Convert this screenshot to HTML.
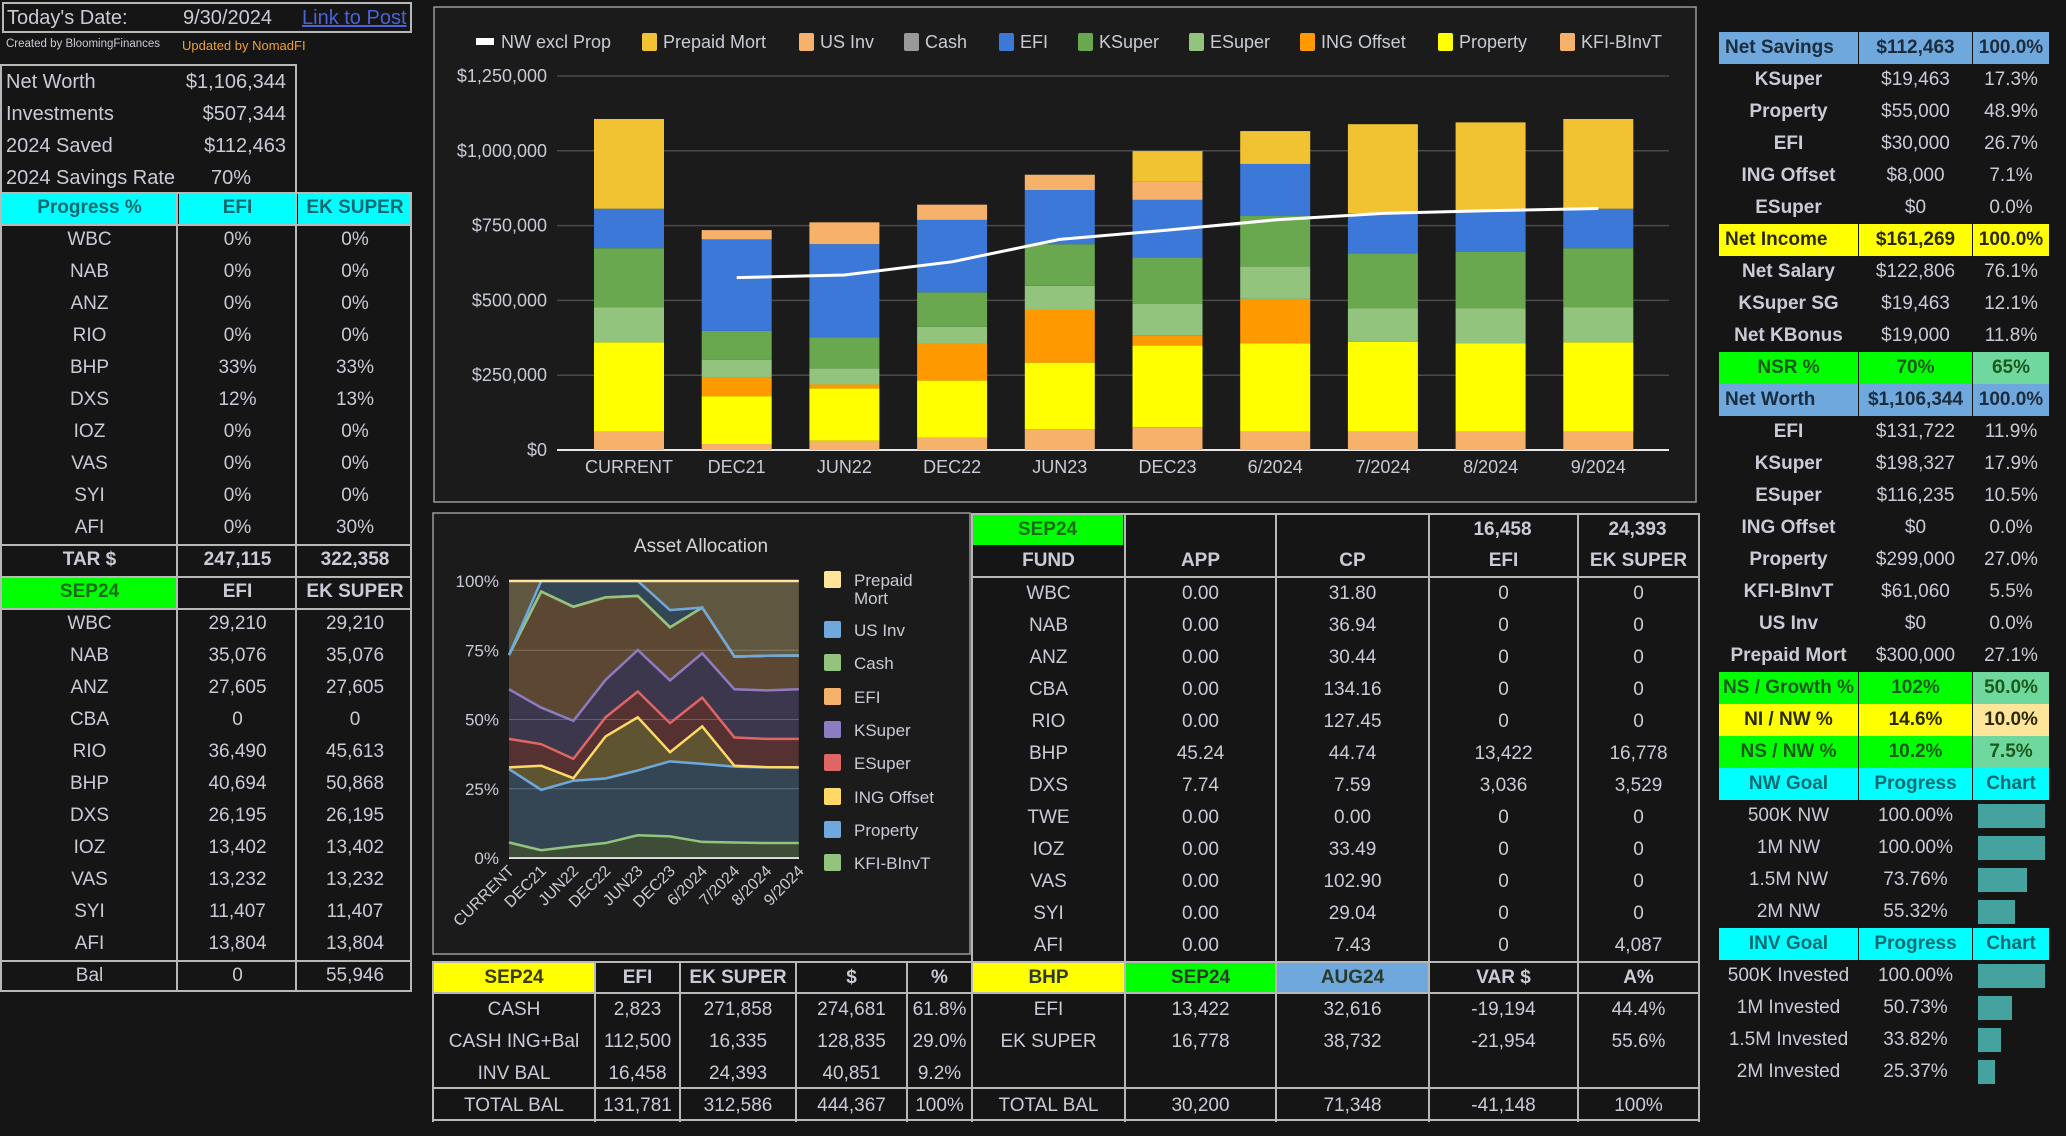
<!DOCTYPE html>
<html><head><meta charset="utf-8"><style>
body{margin:0;width:2066px;height:1136px;background:#151515;overflow:hidden;position:relative;font-family:"Liberation Sans",sans-serif;color:#c9ccd6}
.c{position:absolute;box-sizing:border-box;display:flex;align-items:center;justify-content:center;font-size:19px;white-space:nowrap;overflow:hidden}
.l{position:absolute;background:#b8b8b8}
svg text{font-family:"Liberation Sans",sans-serif}
</style></head><body>
<div class="c" style="left:2px;top:2px;width:410px;height:31px;border:2px solid #b8b8b8;justify-content:flex-start"></div>
<div class="c" style="left:7px;top:3px;height:30px;font-size:20px">Today's Date:</div>
<div class="c" style="left:183px;top:3px;height:30px;font-size:20px">9/30/2024</div>
<div class="c" style="left:302px;top:3px;height:30px;font-size:20px;color:#4a63d8;text-decoration:underline">Link to Post</div>
<div class="c" style="left:6px;top:35px;height:18px;font-size:11.5px">Created by BloomingFinances</div>
<div class="c" style="left:182px;top:35px;height:20px;font-size:13px;color:#f0a030">Updated by NomadFI</div>
<div class="c" style="left:0;top:64px;width:297px;height:130px;border:2px solid #b8b8b8"></div>

<svg id="bar" style="position:absolute;left:0;top:0" width="2066" height="1136"></svg>
<script>
// ---------- Net worth stacked bar chart data ----------
const barCategories=["CURRENT","DEC21","JUN22","DEC22","JUN23","DEC23","6/2024","7/2024","8/2024","9/2024"];
const kfiBInvT=[61060,20000,31000,42000,70000,76000,61000,61000,61000,61060];
const propertyVals=[299000,160000,175000,190000,222000,273000,295000,301000,295000,299000];
const ingOffset=[0,62000,13000,124000,176000,33000,149000,0,0,0];
const eSuper=[116235,59000,54000,56000,81000,106000,108000,111000,117000,116235];
const kSuper=[198327,97000,104000,115000,139000,156000,169000,184000,190000,198327];
const efiVals=[131722,306000,311000,242000,181000,192000,174000,134000,134000,131722];
const cashVals=[0,0,0,0,0,0,0,0,0,0];
const usInv=[0,31000,73000,51000,51000,61000,0,0,0,0];
const prepaidMort=[300000,0,0,0,0,102000,110000,298000,298000,300000];
const nwExclProp=[null,576000,585000,629000,704000,735000,769000,791000,800000,807000];
const barTicks=[0,250000,500000,750000,1000000,1250000];
const barTickLabels=["$0","$250,000","$500,000","$750,000","$1,000,000","$1,250,000"];
// ---------- Asset allocation (cumulative % tops) ----------
const allocCategories=barCategories;
const cumKFI=[5.6,2.8,4.2,5.4,8.2,7.8,5.8,5.6,5.4,5.4];
const cumProperty=[32.1,24.6,27.9,28.7,31.6,34.9,34,33,32.7,32.7];
const cumING=[32.7,33.3,28.8,43.9,50.8,38.2,47.5,33.3,32.8,32.7];
const cumESuper=[43,41.1,35.8,50.8,60.1,48.7,57.9,43.5,43,43];
const cumKSuper=[60.9,54.3,49.5,64.3,75.1,64.1,73.9,60.9,60.5,60.9];
const cumEFI=[73.3,96.2,90.7,94.1,94.6,83.3,90.4,72.7,73,73.1];
const cumCash=[73.3,96.2,90.7,94.1,94.6,83.3,90.4,72.7,73,73.1];
const cumUSInv=[73.3,100,100,100,100,89.5,90.4,72.7,73,73.1];
const cumPrepaid=[100,100,100,100,100,100,100,100,100,100];
const allocTicks=[0,25,50,75,100];
const allocTickLabels=["0%","25%","50%","75%","100%"];

const NS="http://www.w3.org/2000/svg";
const svg=document.getElementById('bar');
function S(tag,attrs,parent){const e=document.createElementNS(NS,tag);for(const k in attrs)e.setAttribute(k,attrs[k]);(parent||svg).appendChild(e);return e;}

let fr=S('rect',{x:434,y:7,width:1262,height:495,fill:'#1b1b1b',stroke:'#9a9a9a','stroke-width':1.5});


const bx=i=>629+107.7*i, by=v=>450-v/1250000*374;
barTicks.forEach((t,i)=>{
  let g=S('line',{x1:557,x2:1669,y1:by(t),y2:by(t),stroke:i==0?'#e8e8e8':'#4a4a4a','stroke-width':i==0?2:1.5});
  
  
  let tx=S('text',{x:547,y:by(t)+6,'text-anchor':'end','font-size':18,fill:'#c9ccd6'});tx.textContent=barTickLabels[i];
  
  
});
const stack=[[kfiBInvT,'#f6b26b','kfi-binvt'],[propertyVals,'#ffff00','property'],[ingOffset,'#ff9900','ing-offset'],[eSuper,'#93c47d','esuper'],[kSuper,'#6aa84f','ksuper'],[efiVals,'#3c78d8','efi'],[cashVals,'#999999','cash'],[usInv,'#f6b26b','us-inv'],[prepaidMort,'#f1c232','prepaid-mort']];
barCategories.forEach((c,i)=>{
  let base=0;
  stack.forEach(([arr,col,nm])=>{
    const v=arr[i];
    if(v>0){let r=S('rect',{x:bx(i)-35,y:by(base+v),width:70,height:by(base)-by(base+v),fill:col});
      
      }
    base+=v;
  });
  let t=S('text',{x:bx(i),y:473,'text-anchor':'middle','font-size':18,fill:'#c9ccd6'});t.textContent=c;
  
  
});
let pts=[];nwExclProp.forEach((v,i)=>{if(v!=null)pts.push(bx(i)+','+by(v));});
let ln=S('polyline',{points:pts.join(' '),fill:'none',stroke:'#ffffff','stroke-width':3});


const leg=[['NW excl Prop','#ffffff',480,1],['Prepaid Mort','#f1c232',642],['US Inv','#f6b26b',799],['Cash','#999999',904],['EFI','#3c78d8',999],['KSuper','#6aa84f',1078],['ESuper','#93c47d',1189],['ING Offset','#ff9900',1300],['Property','#ffff00',1438],['KFI-BInvT','#f6b26b',1560]];
leg.forEach(([n,c,x,isLine])=>{
  let m=isLine?S('rect',{x:x-4,y:38,width:18,height:7,fill:c}):S('rect',{x:x,y:33,width:15,height:18,rx:2,fill:c});
  
  
  let t=S('text',{x:x+21,y:48,'font-size':18,fill:'#c9ccd6'});t.textContent=n;
  
  
});

let fr2=S('rect',{x:433,y:513,width:537,height:441,fill:'#1b1b1b',stroke:'#9a9a9a','stroke-width':1.5});


let tt=S('text',{x:701,y:552,'text-anchor':'middle','font-size':19,fill:'#d6d6d6'});tt.textContent='Asset Allocation';


const ax=i=>509+32.2*i, ay=p=>858-p/100*277;
allocTicks.forEach((t,i)=>{
  let g=S('line',{x1:509,x2:799,y1:ay(t),y2:ay(t),stroke:i==0?'#e0e0e0':'#555','stroke-width':i==0?2:1});
  
  
  let tx=S('text',{x:499,y:ay(t)+6,'text-anchor':'end','font-size':17,fill:'#c9ccd6'});tx.textContent=allocTickLabels[i];
  
  
});
const zero=allocCategories.map(()=>0);
const layers=[[zero,cumKFI,'#93c47d','kfi-binvt'],[cumKFI,cumProperty,'#6fa8dc','property'],[cumProperty,cumING,'#ffd966','ing-offset'],[cumING,cumESuper,'#e06666','esuper'],[cumESuper,cumKSuper,'#8e7cc3','ksuper'],[cumKSuper,cumEFI,'#f6b26b','efi'],[cumEFI,cumCash,'#93c47d','cash'],[cumCash,cumUSInv,'#6fa8dc','us-inv'],[cumUSInv,cumPrepaid,'#ffe599','prepaid-mort']];
layers.forEach(([lo,hi,col,nm])=>{
  const top=hi.map((v,i)=>ax(i)+','+ay(v));
  const bot=lo.map((v,i)=>ax(i)+','+ay(v)).reverse();
  let p=S('polygon',{points:top.concat(bot).join(' '),fill:col,'fill-opacity':0.3});
  
  
});
layers.forEach(([lo,hi,col,nm])=>{
  let l=S('polyline',{points:hi.map((v,i)=>ax(i)+','+ay(v)).join(' '),fill:'none',stroke:col,'stroke-width':2.5});
  
  
});
allocCategories.forEach((c,i)=>{
  let t=S('text',{x:ax(i)+6,y:872,'text-anchor':'end','font-size':16,fill:'#c9ccd6',transform:`rotate(-45 ${ax(i)+6} 872)`});t.textContent=c;
  
  
});
const leg2=[['Prepaid','#ffe599',580],['US Inv','#6fa8dc',630],['Cash','#93c47d',663],['EFI','#f6b26b',697],['KSuper','#8e7cc3',730],['ESuper','#e06666',763],['ING Offset','#ffd966',797],['Property','#6fa8dc',830],['KFI-BInvT','#93c47d',863]];
leg2.forEach(([n,c,y])=>{
  let m=S('rect',{x:824,y:y-9,width:17,height:17,rx:2,fill:c});
  
  
  let t=S('text',{x:854,y:y+6,'font-size':17,fill:'#c9ccd6'});t.textContent=n;
  
  
});
let t2=S('text',{x:854,y:604,'font-size':17,fill:'#c9ccd6'});t2.textContent='Mort';



function cell(x,y,w,h,text,name,st){
  const el=document.createElement('div');
  el.className='c';
  el.style.cssText=`left:${x}px;top:${y}px;width:${w}px;height:${h}px;`+(st||'');
  el.textContent=text;
  
  
  document.body.appendChild(el);
  return el;
}
function line(x,y,w,h,col){
  const el=document.createElement('div');
  el.className='l';
  el.style.cssText=`left:${x}px;top:${y}px;width:${w}px;height:${h}px;`+(col?'background:'+col:'');
  
  
  document.body.appendChild(el);
}
const summary=[["Net Worth","$1,106,344"],["Investments","$507,344"],["2024 Saved","$112,463"],["2024 Savings Rate","70%"]];
summary.forEach((r,i)=>{
  cell(6,66+32*i,180,32,r[0],'summary-label','justify-content:flex-start;font-size:20px');
  cell(176,66+32*i,110,32,r[1],'summary-value',i==3?'font-size:20px':'justify-content:flex-end;font-size:20px');
});
const LC=[0,177,296,412];
const leftRows=[
 ["Progress %","EFI","EK SUPER","cyan"],
 ["WBC","0%","0%"],["NAB","0%","0%"],["ANZ","0%","0%"],["RIO","0%","0%"],["BHP","33%","33%"],["DXS","12%","13%"],["IOZ","0%","0%"],["VAS","0%","0%"],["SYI","0%","0%"],["AFI","0%","30%"],
 ["TAR $","247,115","322,358","bold"],
 ["SEP24","EFI","EK SUPER","green"],
 ["WBC","29,210","29,210"],["NAB","35,076","35,076"],["ANZ","27,605","27,605"],["CBA","0","0"],["RIO","36,490","45,613"],["BHP","40,694","50,868"],["DXS","26,195","26,195"],["IOZ","13,402","13,402"],["VAS","13,232","13,232"],["SYI","11,407","11,407"],["AFI","13,804","13,804"],
 ["Bal","0","55,946"]];
leftRows.forEach((r,i)=>{
  const y=192+32*i;
  for(let j=0;j<3;j++){
    let st='font-size:19px;';
    if(r[3]=='cyan')st+='background:#00ffff;color:#0c6b70;font-weight:bold;';
    if(r[3]=='bold')st+='font-weight:bold;';
    if(r[3]=='green')st+=(j==0?'background:#00ff00;color:#1b6b1b;':'')+'font-weight:bold;';
    cell(LC[j]+2,y,LC[j+1]-LC[j]-2,32,r[j],'left-table-cell',st);
  }
});
[0,176,295,410].forEach(x=>line(x,192,2,800));
[192,224,544,576,608,960,990].forEach(y=>line(0,y,412,2));

const RC=[1719,1858,1972,2049];
const rightRows=[
 ["Net Savings","$112,463","100.0%","blue"],["KSuper","$19,463","17.3%","b"],["Property","$55,000","48.9%","b"],["EFI","$30,000","26.7%","b"],["ING Offset","$8,000","7.1%","b"],["ESuper","$0","0.0%","b"],
 ["Net Income","$161,269","100.0%","yellow"],["Net Salary","$122,806","76.1%","b"],["KSuper SG","$19,463","12.1%","b"],["Net KBonus","$19,000","11.8%","b"],
 ["NSR %","70%","65%","green"],["Net Worth","$1,106,344","100.0%","blue"],["EFI","$131,722","11.9%","b"],["KSuper","$198,327","17.9%","b"],["ESuper","$116,235","10.5%","b"],["ING Offset","$0","0.0%","b"],["Property","$299,000","27.0%","b"],["KFI-BInvT","$61,060","5.5%","b"],["US Inv","$0","0.0%","b"],["Prepaid Mort","$300,000","27.1%","b"],
 ["NS / Growth %","102%","50.0%","green"],["NI / NW %","14.6%","10.0%","yellow2"],["NS / NW %","10.2%","7.5%","green"],
 ["NW Goal","Progress","Chart","cyan"],["500K NW","100.00%",100],["1M NW","100.00%",100],["1.5M NW","73.76%",73.76],["2M NW","55.32%",55.32],
 ["INV Goal","Progress","Chart","cyan"],["500K Invested","100.00%",100],["1M Invested","50.73%",50.73],["1.5M Invested","33.82%",33.82],["2M Invested","25.37%",25.37]];
rightRows.forEach((r,i)=>{
  const y=32+32*i, k=r[3];
  for(let j=0;j<3;j++){
    let st='font-size:19px;';
    if(k=='blue')st+='background:#6fa8dc;color:#1c2c3c;font-weight:bold;'+(j==0?'justify-content:flex-start;padding-left:6px;':'');
    if(k=='yellow')st+='background:#ffff00;color:#2a2a00;font-weight:bold;'+(j==0?'justify-content:flex-start;padding-left:6px;':'');
    if(k=='yellow2')st+='color:#2a2a00;font-weight:bold;background:'+(j==2?'#ffe599':'#ffff00')+';';
    if(k=='green')st+='color:#1a5a1a;font-weight:bold;background:'+(j==2?'#6fd89f':'#00ff00')+';';
    if(k=='cyan')st+='background:#00ffff;color:#0c6b70;font-weight:bold;';
    if(k=='b'&&j==0)st+='font-weight:bold;';
    if(typeof r[2]=='number'&&j==2){
      cell(1978,y+4,r[2]/100*67,24,'','goal-progress-bar','background:#45a29e;');
      continue;
    }
    cell(RC[j]+(j?1:0),y,RC[j+1]-RC[j]-(j?1:0),32,r[j],'right-panel-cell',st);
  }
});

const MC=[971,1124,1275,1428,1577,1698];
cell(972,514,151,31,'SEP24','fund-table-sep24','background:#00ff00;color:#1b6b1b;font-weight:bold;font-size:19px');
cell(1429,514,147,31,'16,458','fund-efi-total','font-weight:bold');
cell(1578,514,119,31,'24,393','fund-ek-total','font-weight:bold');
["FUND","APP","CP","EFI","EK SUPER"].forEach((h,j)=>cell(MC[j]+2,545,MC[j+1]-MC[j]-2,32,h,'fund-table-header','font-weight:bold'));
const fundRows=[["WBC","0.00","31.80","0","0"],["NAB","0.00","36.94","0","0"],["ANZ","0.00","30.44","0","0"],["CBA","0.00","134.16","0","0"],["RIO","0.00","127.45","0","0"],["BHP","45.24","44.74","13,422","16,778"],["DXS","7.74","7.59","3,036","3,529"],["TWE","0.00","0.00","0","0"],["IOZ","0.00","33.49","0","0"],["VAS","0.00","102.90","0","0"],["SYI","0.00","29.04","0","0"],["AFI","0.00","7.43","0","4,087"]];
fundRows.forEach((r,i)=>r.forEach((v,j)=>cell(MC[j]+2,578+32*i,MC[j+1]-MC[j]-2,32,v,'fund-table-cell')));
MC.forEach(x=>line(x,513,2,448));
line(971,513,727,2);line(971,576,727,2);

const BL=[432,594,679,795,906,971];
const botLeft=[["SEP24","EFI","EK SUPER","$","%"],["CASH","2,823","271,858","274,681","61.8%"],["CASH ING+Bal","112,500","16,335","128,835","29.0%"],["INV BAL","16,458","24,393","40,851","9.2%"],["TOTAL BAL","131,781","312,586","444,367","100%"]];
botLeft.forEach((r,i)=>r.forEach((v,j)=>cell(BL[j]+2,962+32*i,BL[j+1]-BL[j]-2,32,v,'balance-table-cell',(i==0?'font-weight:bold;':'')+(i==0&&j==0?'background:#ffff00;color:#3a3a00;':''))));
const botRight=[["BHP","SEP24","AUG24","VAR $","A%"],["EFI","13,422","32,616","-19,194","44.4%"],["EK SUPER","16,778","38,732","-21,954","55.6%"],["","","","",""],["TOTAL BAL","30,200","71,348","-41,148","100%"]];
const hdrBg=['#ffff00','#00ff00','#6fa8dc','',''];
botRight.forEach((r,i)=>r.forEach((v,j)=>cell(MC[j]+2,962+32*i,MC[j+1]-MC[j]-2,32,v,'bhp-table-cell',(i==0?'font-weight:bold;':'')+(i==0&&hdrBg[j]?'background:'+hdrBg[j]+';color:#2a3a2a;':''))));
BL.forEach(x=>line(x,961,2,161));MC.forEach(x=>line(x,961,2,161));
[961,992,1087,1119].forEach(y=>line(432,y,1267,2));
</script>
</body></html>
